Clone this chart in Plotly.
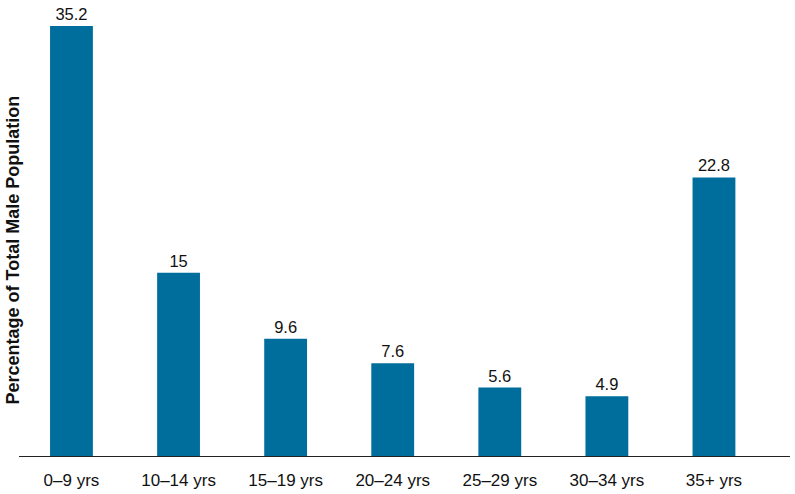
import plotly.graph_objects as go

categories = ["0–9 yrs", "10–14 yrs", "15–19 yrs", "20–24 yrs", "25–29 yrs", "30–34 yrs", "35+ yrs"]
values = [35.2, 15, 9.6, 7.6, 5.6, 4.9, 22.8]
labels = ["35.2", "15", "9.6", "7.6", "5.6", "4.9", "22.8"]

fig = go.Figure(go.Bar(
    x=list(range(len(categories))), y=values,
    text=labels, textposition="outside", cliponaxis=False,
    textfont=dict(family="Liberation Sans, Arial", size=16.5, color="#111"),
    marker=dict(color="#006e9d", line=dict(width=0)),
    width=0.40,
))
fig.update_layout(
    width=795, height=494,
    margin=dict(l=19, r=5, t=10, b=38, autoexpand=False),
    paper_bgcolor="white", plot_bgcolor="white",
    font=dict(family="Liberation Sans, Arial", color="#111"),
    showlegend=False,
    xaxis=dict(
        tickmode="array", tickvals=list(range(len(categories))), ticktext=categories,
        range=[-0.49, 6.71], showline=True, linecolor="#222", linewidth=1,
        ticks="", showgrid=False, zeroline=False, tickfont=dict(size=17, color="#111"),
        ticklabelstandoff=9, automargin=False,
    ),
    yaxis=dict(
        range=[0, 36.5], showticklabels=False, ticks="", showgrid=False, zeroline=False,
        showline=False, automargin=False,
    ),
    annotations=[dict(
        text="<b>Percentage of Total Male Population</b>", textangle=-90,
        xref="paper", yref="paper", x=-0.0084, y=0.462, xanchor="center", yanchor="middle",
        showarrow=False, font=dict(size=18, color="#111"),
    )],
)
fig.write_html(
    "out.html",
    config={"displayModeBar": False},
    post_script="document.body.style.margin='0';document.body.style.overflow='hidden';",
)
